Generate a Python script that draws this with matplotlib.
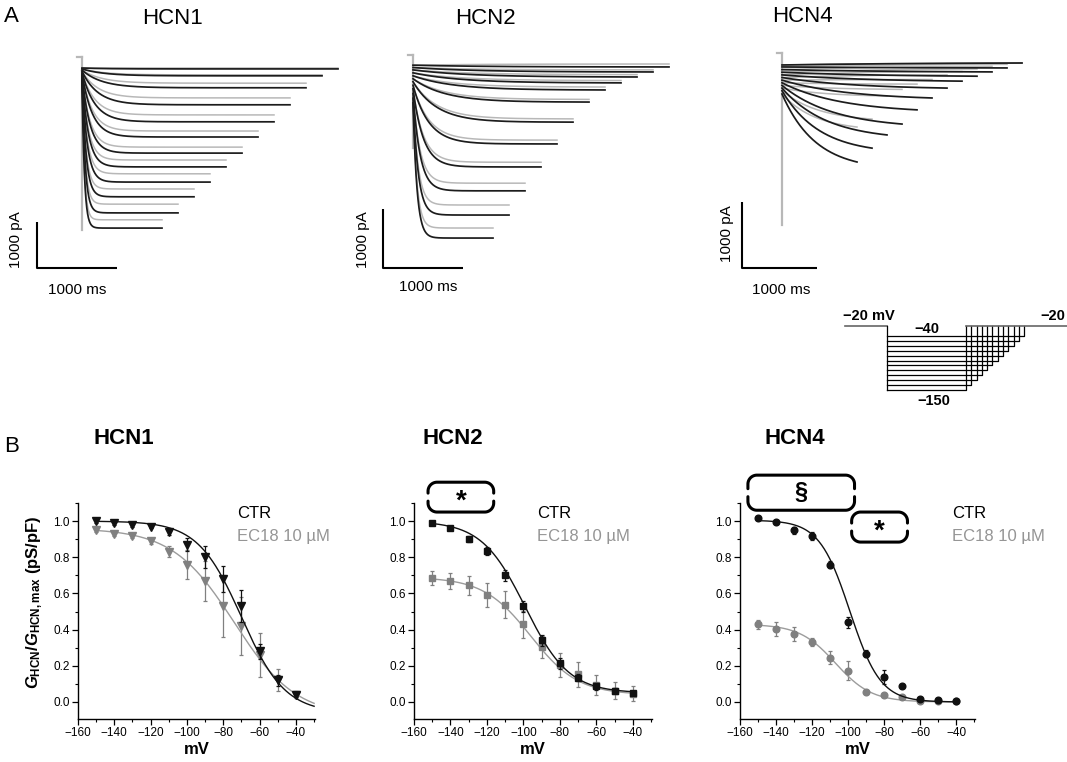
import matplotlib
matplotlib.use("Agg")
import matplotlib.pyplot as plt
from matplotlib.ticker import MultipleLocator, FormatStrFormatter
import numpy as np

W, H = 1067, 762
DPI = 100

plt.rcParams["font.family"] = ["Liberation Sans", "DejaVu Sans"]
plt.rcParams["mathtext.fontset"] = "custom"
plt.rcParams["mathtext.it"] = "Liberation Sans:italic:bold"
plt.rcParams["mathtext.rm"] = "Liberation Sans:bold"
plt.rcParams["mathtext.bf"] = "Liberation Sans:bold"

BLACK = "#111111"
GREY = "#808080"
GREY_FIT = "#9c9c9c"
LEGEND_GREY = "#959595"
TRACE_BLACK = "#1c1c1c"
TRACE_GREY = "#b8b8b8"

# -- Panel A data: current traces (pA), steps -40 ... -150 mV --------------
STEP_MV = [-40, -50, -60, -70, -80, -90, -100, -110, -120, -130, -140, -150]
STEP_DUR_MS = [3200, 3000, 2800, 2600, 2400, 2200, 2000, 1800, 1600, 1400, 1200, 1000]

HCN1_TR_CTR = [-20, -170, -430, -800, -1170, -1500, -1850, -2150, -2480, -2800, -3150, -3480]
HCN1_TR_EC = [0, -150, -330, -650, -1020, -1370, -1720, -2000, -2300, -2630, -2960, -3300]
HCN1_TR_INST = [0, -20, -45, -70, -90, -115, -140, -160, -185, -210, -235, -260]
HCN1_TR_TAU = [300, 280, 250, 200, 160, 130, 100, 80, 65, 50, 40, 30]

HCN2_TR_CTR = [-50, -135, -220, -320, -440, -645, -985, -1355, -1745, -2150, -2560, -2950]
HCN2_TR_EC = [0, -100, -180, -280, -390, -600, -930, -1290, -1665, -2020, -2390, -2780]
HCN2_TR_INST = [-20, -60, -100, -150, -200, -250, -300, -360, -420, -500, -580, -660]
HCN2_TR_TAU = [900, 800, 700, 600, 500, 400, 300, 200, 130, 90, 65, 50]

HCN4_TR_CTR = [0, -75, -135, -200, -275, -380, -530, -710, -925, -1090, -1290, -1500]
HCN4_TR_EC = [0, -20, -50, -90, -130, -180, -250, -320, -400, -500, -850, -970]
HCN4_TR_INST = [-30, -60, -100, -140, -180, -220, -260, -300, -340, -380, -420, -470]
HCN4_TR_TAU = [2000, 1800, 1600, 1400, 1200, 1000, 900, 800, 700, 600, 500, 450]

# voltage protocol (schematic time units)
PROTO_HOLD_MV = -20
PROTO_STEP_END = [1370, 1315, 1265, 1210, 1155, 1105, 1050, 995, 945, 895, 840, 790]

# -- Panel B data: normalised conductance --------------------------------------
BV = [-150, -140, -130, -120, -110, -100, -90, -80, -70, -60, -50, -40]

HCN1_CTR = [1.00, 0.99, 0.98, 0.97, 0.94, 0.87, 0.80, 0.68, 0.53, 0.28, 0.12, 0.04]
HCN1_CTR_ERR = [0.01, 0.01, 0.015, 0.01, 0.015, 0.035, 0.06, 0.07, 0.09, 0.04, 0.03, 0.01]
HCN1_EC = [0.95, 0.93, 0.92, 0.89, 0.83, 0.76, 0.67, 0.53, 0.42, 0.26, 0.12, 0.04]
HCN1_EC_ERR = [0.01, 0.01, 0.015, 0.015, 0.03, 0.08, 0.11, 0.17, 0.16, 0.12, 0.06, 0.02]

HCN2_CTR = [0.99, 0.96, 0.90, 0.835, 0.70, 0.53, 0.34, 0.215, 0.135, 0.087, 0.063, 0.05]
HCN2_CTR_ERR = [0.01, 0.01, 0.015, 0.02, 0.03, 0.03, 0.03, 0.03, 0.02, 0.02, 0.015, 0.01]
HCN2_EC = [0.685, 0.668, 0.644, 0.592, 0.538, 0.43, 0.304, 0.204, 0.152, 0.096, 0.063, 0.046]
HCN2_EC_ERR = [0.04, 0.045, 0.055, 0.065, 0.075, 0.075, 0.06, 0.065, 0.07, 0.055, 0.045, 0.04]

HCN4_CTR = [1.015, 0.995, 0.95, 0.918, 0.76, 0.44, 0.267, 0.137, 0.09, 0.019, 0.013, 0.004]
HCN4_CTR_ERR = [0.01, 0.01, 0.02, 0.02, 0.02, 0.03, 0.02, 0.04, 0.01, 0.01, 0.01, 0.005]
HCN4_EC = [0.43, 0.403, 0.375, 0.332, 0.245, 0.174, 0.056, 0.037, 0.026, 0.007, 0.004, 0.004]
HCN4_EC_ERR = [0.025, 0.04, 0.04, 0.02, 0.035, 0.05, 0.01, 0.01, 0.01, 0.005, 0.005, 0.005]

# Boltzmann fit parameters (A1, A2, V1/2, k)
HCN1_CTR_FIT = (1.0, -0.06, -70, 12)
HCN1_EC_FIT = (0.96, -0.08, -74, 17)
HCN2_CTR_FIT = (1.0, 0.05, -99, 12)
HCN2_EC_FIT = (0.69, 0.04, -96, 13)
HCN4_CTR_FIT = (1.005, 0.0, -99, 8.5)
HCN4_EC_FIT = (0.43, 0.0, -107, 10)


# -- Helpers ---------------------------------------------------------------

def px_axes(fig, L, T, R, B):
    return fig.add_axes([L / W, 1 - B / H, (R - L) / W, (B - T) / H])


def ftext(fig, x, y, s, **kw):
    kw.setdefault("ha", "center")
    kw.setdefault("va", "center")
    return fig.text(x / W, 1 - y / H, s, **kw)


def trace_panel(fig, box, x0, y0, ms_pp, pa_pp, ctr, ec, inst, tau,
                hold, transient, bar_px):
    L, T, R, B = box
    ax = px_axes(fig, L, T, R, B)
    ax.set_xlim((L - x0) * ms_pp, (R - x0) * ms_pp)
    ax.set_ylim((y0 - B) * pa_pp, (y0 - T) * pa_pp)
    ax.axis("off")

    # holding current and capacitive transient
    ax.plot([-5 * ms_pp, 0], [hold, hold], color=TRACE_GREY, lw=1.6)
    ax.plot([0, 0], [hold, transient], color=TRACE_GREY, lw=1.6, zorder=1)

    for series, col, lw, z in ((ec, TRACE_GREY, 1.1, 2),
                               (ctr, TRACE_BLACK, 1.25, 3)):
        for dur, end, i0, tc in zip(STEP_DUR_MS, series, inst, tau):
            t = np.linspace(0, dur, 400)
            shape = (1 - np.exp(-t / tc)) / (1 - np.exp(-dur / tc))
            ax.plot(t, i0 + (end - i0) * shape, color=col, lw=lw, zorder=z)

    # scale bar 1000 ms / 1000 pA
    tc0 = (bar_px[0] - x0) * ms_pp
    pc0 = (y0 - bar_px[1]) * pa_pp
    ax.plot([tc0, tc0, tc0 + 1000], [pc0 + 1000, pc0, pc0],
            color="black", lw=1.5, solid_capstyle="butt", clip_on=False)
    return ax


def boltz(v, p):
    a1, a2, vh, k = p
    return a2 + (a1 - a2) / (1 + np.exp((v - vh) / k))


def bracket(ax, x0, x1, y0, y1, label, fs, r=9, gap=8, lw=2.2, dy=0.0):
    (X0, Y0), (X1, Y1) = ax.transData.transform([(x0, y0), (x1, y1)])
    mid = (Y0 + Y1) / 2
    g = gap / 2

    def arc(cx, cy, a0, a1):
        a = np.linspace(a0, a1, 24)
        return list(zip(cx + r * np.cos(a), cy + r * np.sin(a)))

    top = [(X0, mid + g)] + arc(X0 + r, Y1 - r, np.pi, np.pi / 2) \
        + arc(X1 - r, Y1 - r, np.pi / 2, 0) + [(X1, mid + g)]
    bot = [(X1, mid - g)] + arc(X1 - r, Y0 + r, 0, -np.pi / 2) \
        + arc(X0 + r, Y0 + r, -np.pi / 2, -np.pi) + [(X0, mid - g)]
    inv = ax.transData.inverted()
    for pts in (top, bot):
        d = inv.transform(np.array(pts))
        ax.plot(d[:, 0], d[:, 1], color="black", lw=lw, clip_on=False,
                solid_capstyle="round")
    ax.text((x0 + x1) / 2, (y0 + y1) / 2 + dy, label, ha="center",
            va="center", fontsize=fs, fontweight="bold", clip_on=False)


def iv_panel(fig, box, ctr, ctr_err, ec, ec_err, fit_c, fit_e, fit_end,
             marker, ms):
    ax = px_axes(fig, *box)
    ax.set_xlim(-160, -29.5)
    ax.set_ylim(-0.094, 1.1)
    for s in ("top", "right"):
        ax.spines[s].set_visible(False)
    for s in ("left", "bottom"):
        ax.spines[s].set_linewidth(1.0)
    ax.xaxis.set_minor_locator(MultipleLocator(10))
    ax.yaxis.set_minor_locator(MultipleLocator(0.1))
    ax.set_xticks(np.arange(-160, -39, 20))
    ax.set_yticks(np.arange(0, 1.01, 0.2))
    ax.yaxis.set_major_formatter(FormatStrFormatter("%.1f"))
    ax.tick_params(which="major", direction="out", length=4, width=0.9,
                   labelsize=8.5, pad=2)
    ax.tick_params(which="minor", direction="out", length=2, width=0.8)

    vv = np.linspace(-150, fit_end, 300)
    for vals, err, fit, col, fcol, z in (
            (ec, ec_err, fit_e, GREY, GREY_FIT, 2),
            (ctr, ctr_err, fit_c, BLACK, BLACK, 4)):
        ax.errorbar(BV, vals, yerr=err, fmt="none", ecolor=col,
                    elinewidth=0.9, capsize=1.6, capthick=0.9, zorder=z)
        ax.plot(vv, boltz(vv, fit), color=fcol, lw=1.0, zorder=z)
        ax.plot(BV, vals, linestyle="none", marker=marker, ms=ms,
                color=col, mec=col, zorder=z + 1, clip_on=False)
    return ax


# -- Figure ----------------------------------------------------------------

fig = plt.figure(figsize=(W / DPI, H / DPI), dpi=DPI)
fig.patch.set_facecolor("white")

# Panel A
ftext(fig, 4, 16, "A", fontsize=16, ha="left")
ftext(fig, 172, 19, "HCN1", fontsize=16)
ftext(fig, 485, 19, "HCN2", fontsize=16)
ftext(fig, 802, 16, "HCN4", fontsize=16)

trace_panel(fig, (0, 40, 350, 300), 82, 68, 12.5, 1000 / 46,
            HCN1_TR_CTR, HCN1_TR_EC, HCN1_TR_INST, HCN1_TR_TAU,
            240, -3520, (37, 268))
trace_panel(fig, (345, 40, 700, 300), 413, 64, 12.5, 1000 / 59,
            HCN2_TR_CTR, HCN2_TR_EC, HCN2_TR_INST, HCN2_TR_TAU,
            150, -1420, (383, 268))
trace_panel(fig, (700, 40, 1067, 300), 782, 63, 1000 / 75, 1000 / 66,
            HCN4_TR_CTR, HCN4_TR_EC, HCN4_TR_INST, HCN4_TR_TAU,
            150, -2450, (742, 268))

for xp, yp in ((16, 240), (363, 240), (727, 234)):
    ftext(fig, xp, yp, "1000 pA", fontsize=11, rotation=90)
for xp, yp in ((77, 290), (428, 287), (781, 290)):
    ftext(fig, xp, yp, "1000 ms", fontsize=11)

# voltage protocol
pax = px_axes(fig, 840, 300, 1067, 410)
pax.set_xlim(-470, 1800)
pax.set_ylim(-40 - 74 / 0.491, -40 + 36 / 0.491)
pax.axis("off")
pkw = dict(color="black", lw=0.9, clip_on=False)
pax.plot([-420, 0], [PROTO_HOLD_MV, PROTO_HOLD_MV], color="#666666", lw=1.2)
pax.plot([0, 0], [PROTO_HOLD_MV, min(STEP_MV)], **pkw)
for v, tend in zip(STEP_MV, PROTO_STEP_END):
    pax.plot([0, tend, tend], [v, v, PROTO_HOLD_MV], **pkw)
pax.plot([min(PROTO_STEP_END), 1800], [PROTO_HOLD_MV, PROTO_HOLD_MV],
         color="#666666", lw=1.2)
pfs = dict(fontsize=10.5, fontweight="bold")
ftext(fig, 869, 316, "\u221220 mV", **pfs)
ftext(fig, 927, 329, "\u221240", **pfs)
ftext(fig, 1053, 316, "\u221220", **pfs)
ftext(fig, 934, 401, "\u2212150", **pfs)

# Panel B
ftext(fig, 4, 447, "B", fontsize=16, ha="left")
ftext(fig, 124, 438, "HCN1", fontsize=16, fontweight="bold")
ftext(fig, 453, 438, "HCN2", fontsize=16, fontweight="bold")
ftext(fig, 795, 438, "HCN4", fontsize=16, fontweight="bold")

ax1 = iv_panel(fig, (78, 503, 315, 719), HCN1_CTR, HCN1_CTR_ERR, HCN1_EC,
               HCN1_EC_ERR, HCN1_CTR_FIT, HCN1_EC_FIT, -30, "v", 6.2)
ax2 = iv_panel(fig, (414, 503, 652, 719), HCN2_CTR, HCN2_CTR_ERR, HCN2_EC,
               HCN2_EC_ERR, HCN2_CTR_FIT, HCN2_EC_FIT, -40, "s", 4.2)
ax4 = iv_panel(fig, (740, 503, 975, 719), HCN4_CTR, HCN4_CTR_ERR, HCN4_EC,
               HCN4_EC_ERR, HCN4_CTR_FIT, HCN4_EC_FIT, -40, "o", 4.8)

for ax, lx in ((ax1, 237), (ax2, 537), (ax4, 952)):
    ftext(fig, lx, 514, "CTR", fontsize=12, ha="left", color="black")
    ftext(fig, lx, 536, "EC18 10 \u00b5M", fontsize=12, ha="left",
          color=LEGEND_GREY)
    box = ax.get_position()
    fig.text(box.x0 + box.width / 2, 1 - 750 / H, "mV", ha="center",
             va="center", fontsize=12, fontweight="bold")

ftext(fig, 35, 602, r"$G_{\mathrm{HCN}}/G_{\mathrm{HCN,max}}$ (pS/pF)",
      fontsize=12, fontweight="bold", rotation=90)

bracket(ax2, -152.3, -116.3, 1.05, 1.215, "*", 20, dy=-0.025)
bracket(ax4, -155.6, -96.4, 1.06, 1.254, "\u00a7", 17)
bracket(ax4, -98.0, -67.0, 0.884, 1.05, "*", 20, dy=-0.025)

fig.savefig("out.png", dpi=DPI, facecolor="white")
